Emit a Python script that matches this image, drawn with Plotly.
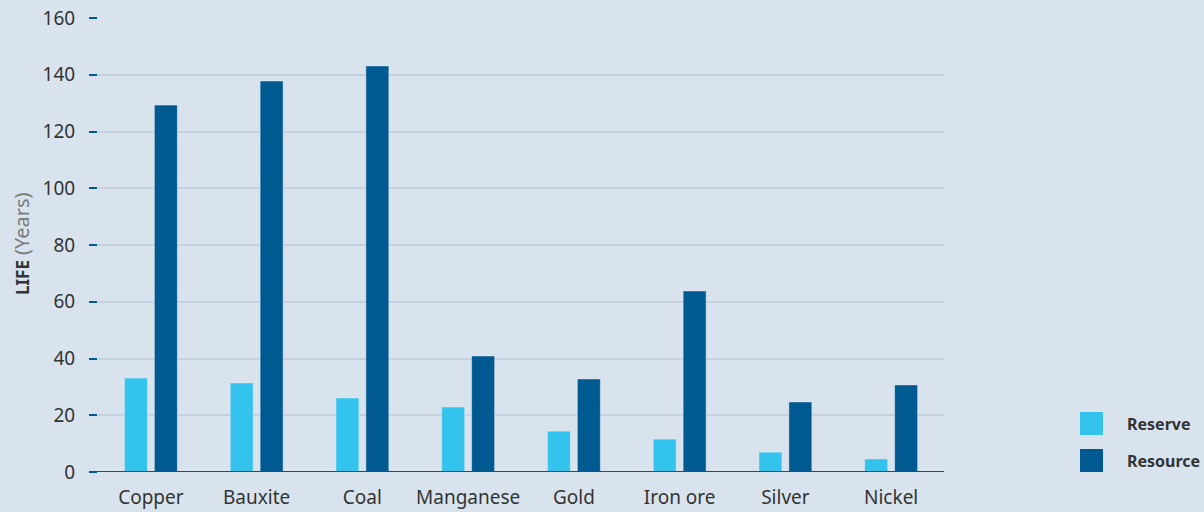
import plotly.graph_objects as go

# Mineral life estimates (years)
minerals = ["Copper", "Bauxite", "Coal", "Manganese", "Gold", "Iron ore", "Silver", "Nickel"]
reserve = [33.1, 31.4, 26.1, 22.9, 14.4, 11.6, 7.0, 4.6]
resource = [129.3, 137.8, 143.1, 40.9, 32.8, 63.8, 24.7, 30.7]
y_ticks = [0, 20, 40, 60, 80, 100, 120, 140, 160]

LIGHT = "#33c3ec"
DARK = "#005a92"
BG = "#d9e3ed"
GRID = "#c3d1e1"
TEXT = "#333333"

W, H = 1204, 512
L, R, T, B = 98, 260, 18, 40
PW, PH = W - L - R, H - T - B


def px_x(x):
    return (x - L) / PW


def px_y(y):
    return (H - B - y) / PH


fig = go.Figure()
fig.add_bar(x=minerals, y=reserve, name="Reserve", marker_color=LIGHT,
            width=0.2175, offset=-0.25, showlegend=False)
fig.add_bar(x=minerals, y=resource, name="Resource", marker_color=DARK,
            width=0.2175, offset=0.033, showlegend=False)

shapes = [
    # baseline, extended under the tick marks
    dict(type="line", xref="paper", yref="y", x0=px_x(90), x1=1, y0=0, y1=0,
         line=dict(color=DARK, width=2)),
]
annotations = [
    dict(text="<b><span style='font-size:17px'>LIFE</span></b> "
              "<span style='color:#7a7a7a;font-size:20px'>(Years)</span>",
         xref="paper", yref="paper", x=px_x(21), y=px_y(244), textangle=-90,
         showarrow=False, font=dict(family="Noto Sans", size=19, color=TEXT),
         xanchor="center", yanchor="middle"),
]

# legend swatches and labels
for name, color, top in [("Reserve", LIGHT, 412), ("Resource", DARK, 449)]:
    shapes.append(dict(type="rect", xref="paper", yref="paper",
                       x0=px_x(1080), x1=px_x(1103), y0=px_y(top + 23), y1=px_y(top),
                       fillcolor=color, line=dict(width=0)))
    annotations.append(dict(text=f"<b>{name}</b>", xref="paper", yref="paper",
                            x=px_x(1125), y=px_y(top + 11.5), showarrow=False,
                            xanchor="left", yanchor="middle",
                            font=dict(family="Noto Sans", size=16, color=TEXT)))

fig.update_layout(
    width=W, height=H,
    margin=dict(l=L, r=R, t=T, b=B, pad=0, autoexpand=False),
    paper_bgcolor=BG, plot_bgcolor=BG,
    barmode="overlay",
    font=dict(family="Noto Sans", size=19, color=TEXT),
    shapes=shapes, annotations=annotations,
    xaxis=dict(range=[-0.5, 7.5], showgrid=False, showline=False, zeroline=False,
               ticks="", tickfont=dict(size=19, color=TEXT), ticklabelstandoff=12,
               automargin=False, fixedrange=True),
    yaxis=dict(range=[0, 160], tickvals=y_ticks, showgrid=True, gridcolor=GRID,
               gridwidth=1.5, zeroline=False, showline=False,
               ticks="outside", ticklen=8, tickwidth=2, tickcolor=DARK,
               tickfont=dict(size=19, color=TEXT), ticklabelstandoff=10,
               automargin=False, fixedrange=True),
)

fig.write_html("out.html")
